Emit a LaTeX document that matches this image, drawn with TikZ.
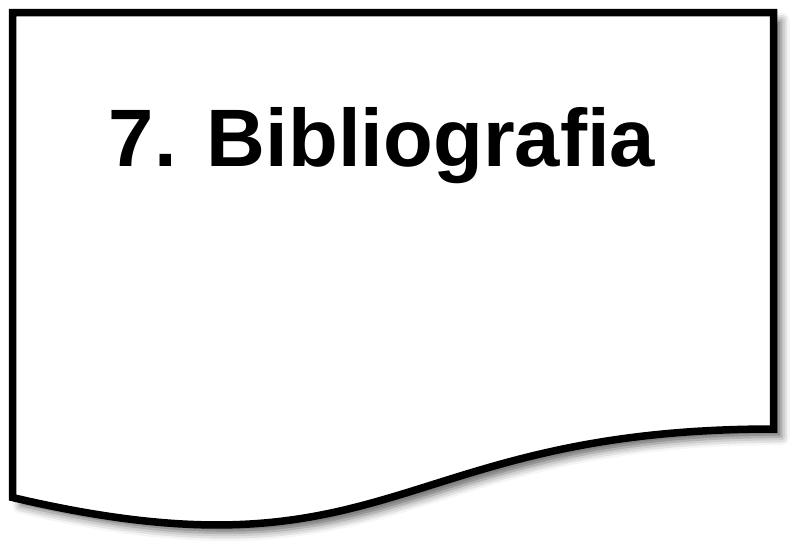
\documentclass[tikz,border=0pt]{standalone}
\usepackage{fontspec}
\setmainfont{Liberation Sans}
\usetikzlibrary{shadows.blur}
\newcommand{\DocLeft}{12.5}
\newcommand{\DocRight}{773.5}
\newcommand{\DocTop}{12.5}
\newcommand{\DocFoldR}{429}
\newcommand{\DocFoldL}{497.5}
\begin{document}
\begin{tikzpicture}[
  x=1pt,y=-1pt,
  docshape/.style={draw=black,line width=7.5pt,fill=white,
    blur shadow={shadow xshift=8pt,shadow yshift=-8pt,
      shadow blur radius=8pt,shadow opacity=60}},
  title/.style={font=\fontsize{81.5}{90}\selectfont\bfseries}
]
\useasboundingbox (0,0) rectangle (806,558);

% Document shape
\path[docshape] (\DocLeft,\DocTop) -- (\DocRight,\DocTop) -- (\DocRight,\DocFoldR)
  .. controls (393,\DocFoldR) and (393,587) .. (\DocLeft,\DocFoldL) -- cycle;

% Title
\node[title,anchor=base,inner sep=0pt] (doctitle) at (382,166) {7. Bibliografia};

\end{tikzpicture}
\end{document}
